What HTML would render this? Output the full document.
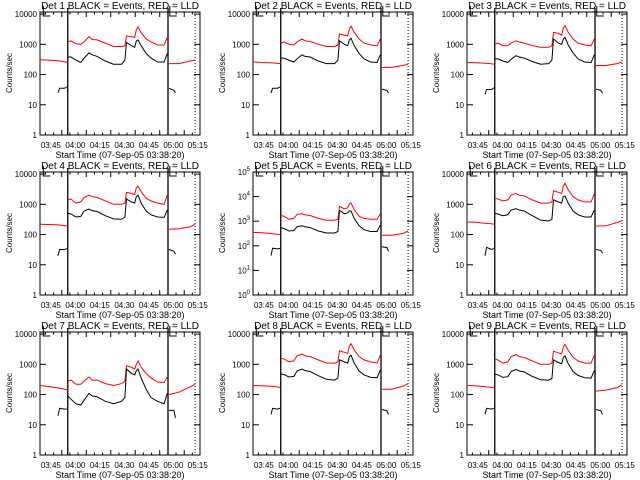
<!DOCTYPE html>
<html><head><meta charset="utf-8"><style>
body{margin:0;background:#fff;}
svg{display:block;font-family:"Liberation Sans",sans-serif;}
</style></head><body>
<svg id="chart" width="640" height="480" viewBox="0 0 640 480" xmlns="http://www.w3.org/2000/svg"></svg>
<script>
// minutes since start 03:38:20
const mainTimes=[17,19,22,25,27,30,32,35,40,45,50,52,53,56,58,59,60,62,65,68,72,76,78];
const preRedTimes=[0,5,10,14,17];
const postRedTimes=[79,85,92,95];
const preBlackTimes=[11,12,15,17];
const postBlackTimes=[79,82,83];
const tickLabelsX=["03:45","04:00","04:15","04:30","04:45","05:00","05:15"];
const tickTimesX=[6.667,21.667,36.667,51.667,66.667,81.667,96.667];
const detNames=["1","2","3","4","5","6","7","8","9"];
const redMain=[
[1200,1300,1050,1000,1200,1800,1450,1400,1100,850,850,900,1900,1800,1700,3000,3800,2400,1500,1200,950,950,1700],
[1100,1200,1000,950,1200,1500,1300,1250,1000,850,850,950,2200,2000,1900,3200,4000,2500,1500,1100,950,900,1500],
[1000,1100,900,900,1100,1300,1200,1100,900,800,800,900,2500,2300,2000,3500,4200,2500,1500,1100,950,900,1500],
[1400,1500,1100,1200,1700,2000,1800,1700,1300,1000,1000,1100,2500,2300,2100,3500,4000,2600,1600,1300,1100,1000,2000],
[1700,1600,1200,1300,1900,2000,1800,1700,1300,1100,1100,1200,4000,3200,3500,5000,5500,3000,1600,1300,1200,1200,2000],
[1600,1500,1300,1400,2000,2300,2000,1900,1400,1100,1100,1200,2800,2500,2300,4000,5000,3000,1800,1400,1200,1200,2200],
[280,300,220,220,280,380,300,300,230,200,230,280,900,800,700,1000,1300,800,500,350,260,250,380],
[1600,1500,1200,1300,1900,2200,1900,1800,1400,1100,1100,1200,2800,2500,2300,4000,4800,3000,1800,1400,1200,1100,2000],
[1500,1400,1100,1200,1800,2100,1800,1700,1300,1000,1000,1100,2700,2400,2200,3800,4600,2900,1700,1300,1100,1100,2000]];
const blackMain=[
[380,380,300,250,350,520,450,400,280,220,220,300,1150,900,800,1300,1400,900,500,350,260,260,500],
[350,350,300,260,330,450,400,380,280,230,230,300,1300,1000,900,1400,1600,900,500,330,260,250,450],
[330,330,280,250,320,420,380,350,270,220,230,300,1500,1100,1000,1500,1700,950,520,330,260,250,450],
[500,480,380,400,600,700,620,580,420,330,320,380,1500,1200,1100,1800,2000,1100,600,450,380,370,650],
[550,500,400,420,600,650,600,550,400,330,330,380,2800,2000,2200,2600,2600,1300,650,450,380,380,700],
[500,480,420,450,650,720,650,600,420,300,280,320,1400,1200,1100,1800,1900,1100,600,450,380,380,650],
[90,70,50,45,65,110,90,85,60,50,60,80,700,500,450,600,700,350,150,80,60,50,110],
[480,460,380,400,600,700,620,580,420,320,300,350,1400,1200,1100,1800,2000,1100,600,450,370,360,650],
[470,450,370,390,580,680,600,560,400,310,300,340,1400,1150,1050,1700,1900,1050,580,430,360,350,620]];
const redPre=[[310,300,290,270,250],[260,250,245,240,230],[250,245,240,230,220],[220,215,210,200,190],[350,340,320,300,280],[260,255,240,230,220],[200,185,170,155,140],[200,195,190,180,170],[200,195,185,175,165]];
const redPost=[[230,230,280,300],[170,175,200,220],[200,200,230,260],[150,155,180,220],[270,270,320,400],[190,195,250,290],[100,120,180,220],[150,150,190,230],[130,140,170,210]];
const blackPre=[[25,35,35,40],[25,35,35,40],[22,32,32,38],[20,32,32,35],[40,80,75,80],[20,38,32,35],[20,35,33,33],[22,35,33,36],[22,35,33,36]];
const blackPost=[[35,30,25],[33,30,24],[33,30,24],[32,28,22],[90,85,60],[32,30,24],[30,30,17],[32,29,22],[32,29,22]];
const yMaxExp=[4.07,4.07,4.07,4.07,5,4.07,4.07,4.07,4.07];

const NS="http://www.w3.org/2000/svg";
const svg=document.getElementById('chart');
function mk(tag,attrs,parent){const e=document.createElementNS(NS,tag);for(const k in attrs)e.setAttribute(k,attrs[k]);(parent||svg).appendChild(e);return e;}
const T0=0,T1=98;
for(let p=0;p<9;p++){
  const ox=Math.round((p%3)*213.33), oy=Math.floor(p/3)*160;
  const L=ox+40,R=ox+200,Tp=oy+12,B=oy+135;
  const g=mk('g',{});
  
  
  const xs=t=>L+(t-T0)/(T1-T0)*(R-L);
  const ys=v=>B-(Math.log10(v)-0)/yMaxExp[p]*(B-Tp);
  const ti=mk('text',{x:ox+120,y:oy+9,'font-size':10,'text-anchor':'middle'},g);
  ti.textContent='Det '+detNames[p]+'  BLACK = Events, RED = LLD';
  
  
  const fr=mk('rect',{x:L,y:Tp,width:R-L,height:B-Tp,fill:'none',stroke:'#000','stroke-width':1},g);
  
  
  for(let m=5;m<T1;m+=5){
    const t=m-1.667; if(t<=0)continue;
    const x=xs(t);const major=(m%15===0);const len=major?5:2.5;
    mk('line',{x1:x,y1:B,x2:x,y2:B-len,stroke:'#000'},g);
    mk('line',{x1:x,y1:Tp,x2:x,y2:Tp+len,stroke:'#000'},g);
  }
  tickTimesX.forEach((t,i)=>{
    const tx=mk('text',{x:xs(t),y:oy+148,'font-size':8,'text-anchor':'middle'},g);
    tx.textContent=tickLabelsX[i];
    
    
  });
  const xt=mk('text',{x:ox+120,y:oy+158,'font-size':9,'text-anchor':'middle'},g);
  xt.textContent='Start Time (07-Sep-05 03:38:20)';
  
  
  const nDec=Math.floor(yMaxExp[p]);
  for(let e=0;e<=nDec;e++){
    const y=ys(Math.pow(10,e));
    mk('line',{x1:L,y1:y,x2:L+6,y2:y,stroke:'#000'},g);
    mk('line',{x1:R,y1:y,x2:R-6,y2:y,stroke:'#000'},g);
    let lab;
    if(p===4){lab=mk('text',{x:L-3,y:y+3,'font-size':8,'text-anchor':'end'},g);
      lab.textContent='10';const s=mk('tspan',{dy:-4,'font-size':6},lab);s.textContent=String(e);}
    else{lab=mk('text',{x:L-3,y:y+3,'font-size':8,'text-anchor':'end'},g);lab.textContent=String(Math.pow(10,e));}
    
    
  }
  const yt=mk('text',{x:0,y:0,'font-size':8,'text-anchor':'middle',transform:`translate(${ox+12},${oy+73}) rotate(-90)`},g);
  yt.textContent='Counts/sec';
  
  
  [17,78.4].forEach(t=>{const l=mk('line',{x1:xs(t),y1:oy+8,x2:xs(t),y2:B,stroke:'#000','stroke-width':1.3},g);
    
    });
  const dl=mk('line',{x1:xs(95),y1:Tp,x2:xs(95),y2:B,stroke:'#000','stroke-dasharray':'1,2'},g);
  
  
  [2,79.5].forEach(t=>{const x=xs(t);mk('polyline',{points:`${x},${oy+6} ${x},${Tp+4} ${x+7},${Tp+4}`,fill:'none',stroke:'#000'},g);});
  function line(ts,vs,col,name){
    const pts=ts.map((t,i)=>xs(t).toFixed(1)+','+ys(vs[i]).toFixed(1)).join(' ');
    const pl=mk('polyline',{points:pts,fill:'none',stroke:col,'stroke-width':1},g);
    
    
  }
  line(preRedTimes,redPre[p],'#ff0000','lld-series-pre');
  line(mainTimes,redMain[p],'#ff0000','lld-series');
  line(postRedTimes,redPost[p],'#ff0000','lld-series-post');
  line(preBlackTimes,blackPre[p],'#000','events-series-pre');
  line(mainTimes,blackMain[p],'#000','events-series');
  line(postBlackTimes,blackPost[p],'#000','events-series-post');
}
</script>
</body></html>
